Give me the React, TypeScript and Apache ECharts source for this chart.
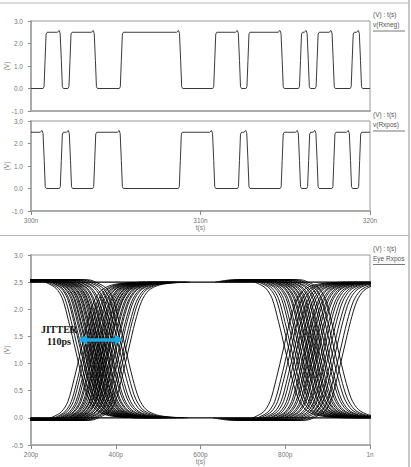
import React, { useEffect, useRef } from "react";
import * as echarts from "echarts";

// ---- Levels ----
const HIGH_V = 2.5;
const LOW_V = 0;

// ---- Panel 1 & 2: differential receiver waveforms (time in ns) ----
const WAVE_T_RANGE_NS = [300, 320];
const WAVE_T_TICK_NS = 10;
const WAVE_V_RANGE = [-1, 3];
const WAVE_V_TICK = 1;

const RXNEG_START_LEVEL = LOW_V;
const RXNEG_EDGES_NS = [
  300.83, 301.79, 302.3, 303.8, 305.33, 308.83, 310.84, 312.3, 312.8, 314.82,
  315.9, 316.36, 316.88, 317.83, 318.95, 319.44,
];
const RXPOS_START_LEVEL = HIGH_V;
const RXPOS_EDGES_NS = [
  300.78, 301.79, 302.33, 303.76, 305.33, 308.81, 310.78, 312.3, 312.8, 314.82,
  315.84, 316.38, 316.88, 317.87, 318.85, 319.39,
];
// edge shapes: [dt ns, volts]
const FALL_SHAPE_NS = [
  [-0.24, 2.5],
  [-0.13, 2.58],
  [-0.07, 2.45],
  [0, 1.25],
  [0.06, 0.08],
  [0.12, 0],
];
const RISE_SHAPE_NS = [
  [-0.12, 0],
  [-0.06, 0.08],
  [0, 1.25],
  [0.06, 2.42],
  [0.12, 2.5],
];

// ---- Panel 3: eye diagram (time in ps) ----
const EYE_T_RANGE_PS = [200, 1000];
const EYE_T_TICK_PS = 200;
const EYE_V_RANGE = [-0.5, 3];
const EYE_V_TICK = 0.5;

// 50% crossing times of each trace
const EYE_FALL_LEFT_PS = [
  305, 311, 317, 320, 325, 328, 332, 334, 338, 341, 343, 347, 350, 352, 356,
  359, 362, 364, 368, 371, 376, 379, 385, 389, 396, 401, 409, 416, 424,
];
const EYE_RISE_LEFT_PS = [
  318, 326, 331, 337, 341, 346, 349, 354, 357, 360, 364, 368, 370, 374, 376,
  380, 383, 385, 390, 393, 398, 401, 407, 411, 418, 423, 430,
];
const EYE_FALL_RIGHT_PS = [
  800, 809, 815, 822, 827, 833, 837, 843, 846, 851, 854, 859, 862, 867, 870,
  875, 879, 885, 889, 896, 901, 909, 916, 925,
];
const EYE_RISE_RIGHT_PS = [
  795, 806, 813, 821, 827, 834, 839, 846, 850, 856, 860, 866, 870, 876, 880,
  887, 892, 899, 905, 913, 920, 930, 938,
];
// normalized transition shape: [dt ps, fraction done]
const EYE_SHAPE_PS = [
  [-165, 0],
  [-125, -0.017],
  [-88, -0.017],
  [-66, 0.008],
  [-46, 0.045],
  [-31, 0.12],
  [-16, 0.29],
  [0, 0.5],
  [16, 0.71],
  [31, 0.86],
  [48, 0.94],
  [72, 0.978],
  [105, 0.994],
  [145, 1.0],
];

// Jitter annotation
const JITTER_FROM_PS = 322;
const JITTER_TO_PS = 408;
const JITTER_V = 1.44;

const AXIS_FONT = "'Liberation Sans', Arial, sans-serif";

function buildWave(startLevel: number, edges: number[], t0: number, t1: number) {
  const pts: number[][] = [[t0, startLevel]];
  let high = startLevel === HIGH_V;
  for (const t of edges) {
    const shape = high ? FALL_SHAPE_NS : RISE_SHAPE_NS;
    for (const [dt, v] of shape) pts.push([+(t + dt).toFixed(3), v]);
    high = !high;
  }
  pts.push([t1, high ? HIGH_V : LOW_V]);
  return pts;
}

function buildEyeTrace(t0: number, falling: boolean) {
  return EYE_SHAPE_PS.map(([dt, p]) => [
    t0 + dt,
    falling ? HIGH_V - (HIGH_V - LOW_V) * p : LOW_V + (HIGH_V - LOW_V) * p,
  ]);
}

export default function App() {
  const ref = useRef<HTMLDivElement>(null);

  useEffect(() => {
    if (!ref.current) return;
    const chart = echarts.init(ref.current, undefined, { renderer: "svg" });

    const gridCommon = {
      show: true,
      borderColor: "#9a9a9a",
      borderWidth: 1,
      containLabel: false,
      outerBoundsMode: "none",
    };
    const axisLabel = {
      color: "#777",
      fontSize: 6.5,
      fontFamily: AXIS_FONT,
    };
    const yAxisBase = (gi: number, range: number[], step: number) => ({
      gridIndex: gi,
      type: "value",
      min: range[0],
      max: range[1],
      interval: step,
      name: "(V)",
      nameLocation: "middle",
      nameGap: 21,
      nameRotate: 90,
      nameMoveOverlap: false,
      nameTextStyle: { color: "#777", fontSize: 6.5, fontFamily: AXIS_FONT },
      axisLine: { show: true, onZero: false, lineStyle: { color: "#aaa", width: 2 } },
      axisTick: { show: true, inside: false, length: 3, lineStyle: { color: "#888" } },
      splitLine: { show: false },
      axisLabel: { ...axisLabel, margin: 8, formatter: (v: number) => v.toFixed(1) },
    });
    const xAxisBase = (gi: number, range: number[], step: number) => ({
      gridIndex: gi,
      type: "value",
      min: range[0],
      max: range[1],
      interval: step,
      nameMoveOverlap: false,
      axisLine: { show: true, onZero: false, lineStyle: { color: "#aaa", width: 2 } },
      axisTick: { show: true, inside: false, length: 4, lineStyle: { color: "#888" } },
      splitLine: { show: false },
      nameTextStyle: { color: "#777", fontSize: 6.5, fontFamily: AXIS_FONT },
    });

    const series: any[] = [];
    series.push({
      type: "line",
      xAxisIndex: 0,
      yAxisIndex: 0,
      data: buildWave(RXNEG_START_LEVEL, RXNEG_EDGES_NS, WAVE_T_RANGE_NS[0], WAVE_T_RANGE_NS[1]),
      symbol: "none",
      lineStyle: { color: "#3a3a3a", width: 1 },
      silent: true,
    });
    series.push({
      type: "line",
      xAxisIndex: 1,
      yAxisIndex: 1,
      data: buildWave(RXPOS_START_LEVEL, RXPOS_EDGES_NS, WAVE_T_RANGE_NS[0], WAVE_T_RANGE_NS[1]),
      symbol: "none",
      lineStyle: { color: "#3a3a3a", width: 1 },
      silent: true,
    });

    const eyeLine = (data: number[][]) => ({
      type: "line",
      xAxisIndex: 2,
      yAxisIndex: 2,
      data,
      symbol: "none",
      smooth: 0.3,
      lineStyle: { color: "#000", width: 0.9 },
      silent: true,
    });
    EYE_FALL_LEFT_PS.forEach((t) => series.push(eyeLine(buildEyeTrace(t, true))));
    EYE_RISE_LEFT_PS.forEach((t) => series.push(eyeLine(buildEyeTrace(t, false))));
    EYE_FALL_RIGHT_PS.forEach((t) => series.push(eyeLine(buildEyeTrace(t, true))));
    EYE_RISE_RIGHT_PS.forEach((t) => series.push(eyeLine(buildEyeTrace(t, false))));
    series.push({
      ...eyeLine([
        [EYE_T_RANGE_PS[0], LOW_V],
        [EYE_T_RANGE_PS[1], LOW_V],
      ]),
      lineStyle: { color: "#000", width: 1.2 },
    });
    series.push({
      ...eyeLine([
        [EYE_T_RANGE_PS[0], HIGH_V],
        [EYE_T_RANGE_PS[1], HIGH_V],
      ]),
      lineStyle: { color: "#000", width: 1.2 },
      markLine: {
        silent: true,
        z: 10,
        symbol: ["triangle", "triangle"],
        symbolSize: [10, 9],
        label: { show: false },
        lineStyle: { color: "#1da9e3", width: 3.5, type: "solid" },
        data: [
          [
            { coord: [JITTER_FROM_PS, JITTER_V] },
            { coord: [JITTER_TO_PS, JITTER_V] },
          ],
        ],
      },
    });

    const legendText = (x: number, y: number, t: string) => ({
      type: "text",
      x,
      y,
      z: 100,
      style: {
        text: t,
        fill: "#555",
        fontSize: 6.5,
        fontFamily: AXIS_FONT,
        textVerticalAlign: "middle",
      },
    });
    const hline = (x1: number, x2: number, y: number, color: string, w = 1) => ({
      type: "line",
      z: 100,
      shape: { x1, y1: y, x2, y2: y },
      style: { stroke: color, lineWidth: w },
    });
    const bigText = (y: number, t: string) => ({
      type: "text",
      x: 59,
      y,
      z: 100,
      style: {
        text: t,
        fill: "#111",
        fontSize: 10,
        fontWeight: "bold",
        fontFamily: "'Liberation Serif', 'Times New Roman', serif",
        textAlign: "center",
        textVerticalAlign: "middle",
      },
    });

    chart.setOption({
      animation: false,
      backgroundColor: "#fff",
      grid: [
        { ...gridCommon, left: 31, top: 21, width: 339, height: 90 },
        { ...gridCommon, left: 31, top: 121, width: 339, height: 90 },
        { ...gridCommon, left: 31, top: 255, width: 339, height: 190 },
      ],
      xAxis: [
        {
          ...xAxisBase(0, WAVE_T_RANGE_NS, WAVE_T_TICK_NS),
          axisLabel: { show: false },
          axisTick: { show: false },
        },
        {
          ...xAxisBase(1, WAVE_T_RANGE_NS, WAVE_T_TICK_NS),
          name: "t(s)",
          nameLocation: "middle",
          nameGap: 13,
          axisLabel: { ...axisLabel, margin: 6, formatter: (v: number) => v + "n" },
        },
        {
          ...xAxisBase(2, EYE_T_RANGE_PS, EYE_T_TICK_PS),
          name: "t(s)",
          nameLocation: "middle",
          nameGap: 13,
          axisLabel: {
            ...axisLabel,
            margin: 6,
            formatter: (v: number) => (v >= 1000 ? v / 1000 + "n" : v + "p"),
          },
        },
      ],
      yAxis: [
        yAxisBase(0, WAVE_V_RANGE, WAVE_V_TICK),
        yAxisBase(1, WAVE_V_RANGE, WAVE_V_TICK),
        yAxisBase(2, EYE_V_RANGE, EYE_V_TICK),
      ],
      series,
      graphic: [
        hline(0, 409, 3, "#b5b5b5"),
        hline(0, 409, 235.5, "#b5b5b5"),
        {
          type: "line",
          z: 100,
          shape: { x1: 409, y1: 0, x2: 409, y2: 467 },
          style: { stroke: "#b5b5b5", lineWidth: 1.5 },
        },
        legendText(373, 14, "(V) : t(s)"),
        legendText(373, 24, "v(Rxneg)"),
        hline(373, 405, 31, "#777"),
        legendText(373, 114, "(V) : t(s)"),
        legendText(373, 124, "v(Rxpos)"),
        hline(373, 405, 131, "#777"),
        legendText(373, 248, "(V) : t(s)"),
        legendText(373, 258, "Eye Rxpos"),
        hline(373, 405, 264.5, "#777"),
        bigText(329, "JITTER"),
        bigText(341, "110ps"),
      ],
    });

    return () => chart.dispose();
  }, []);

  return (
    <div
      ref={ref}
      style={{
        position: "fixed",
        left: 0,
        top: 0,
        width: 411,
        height: 467,
        background: "#fff",
      }}
    />
  );
}
